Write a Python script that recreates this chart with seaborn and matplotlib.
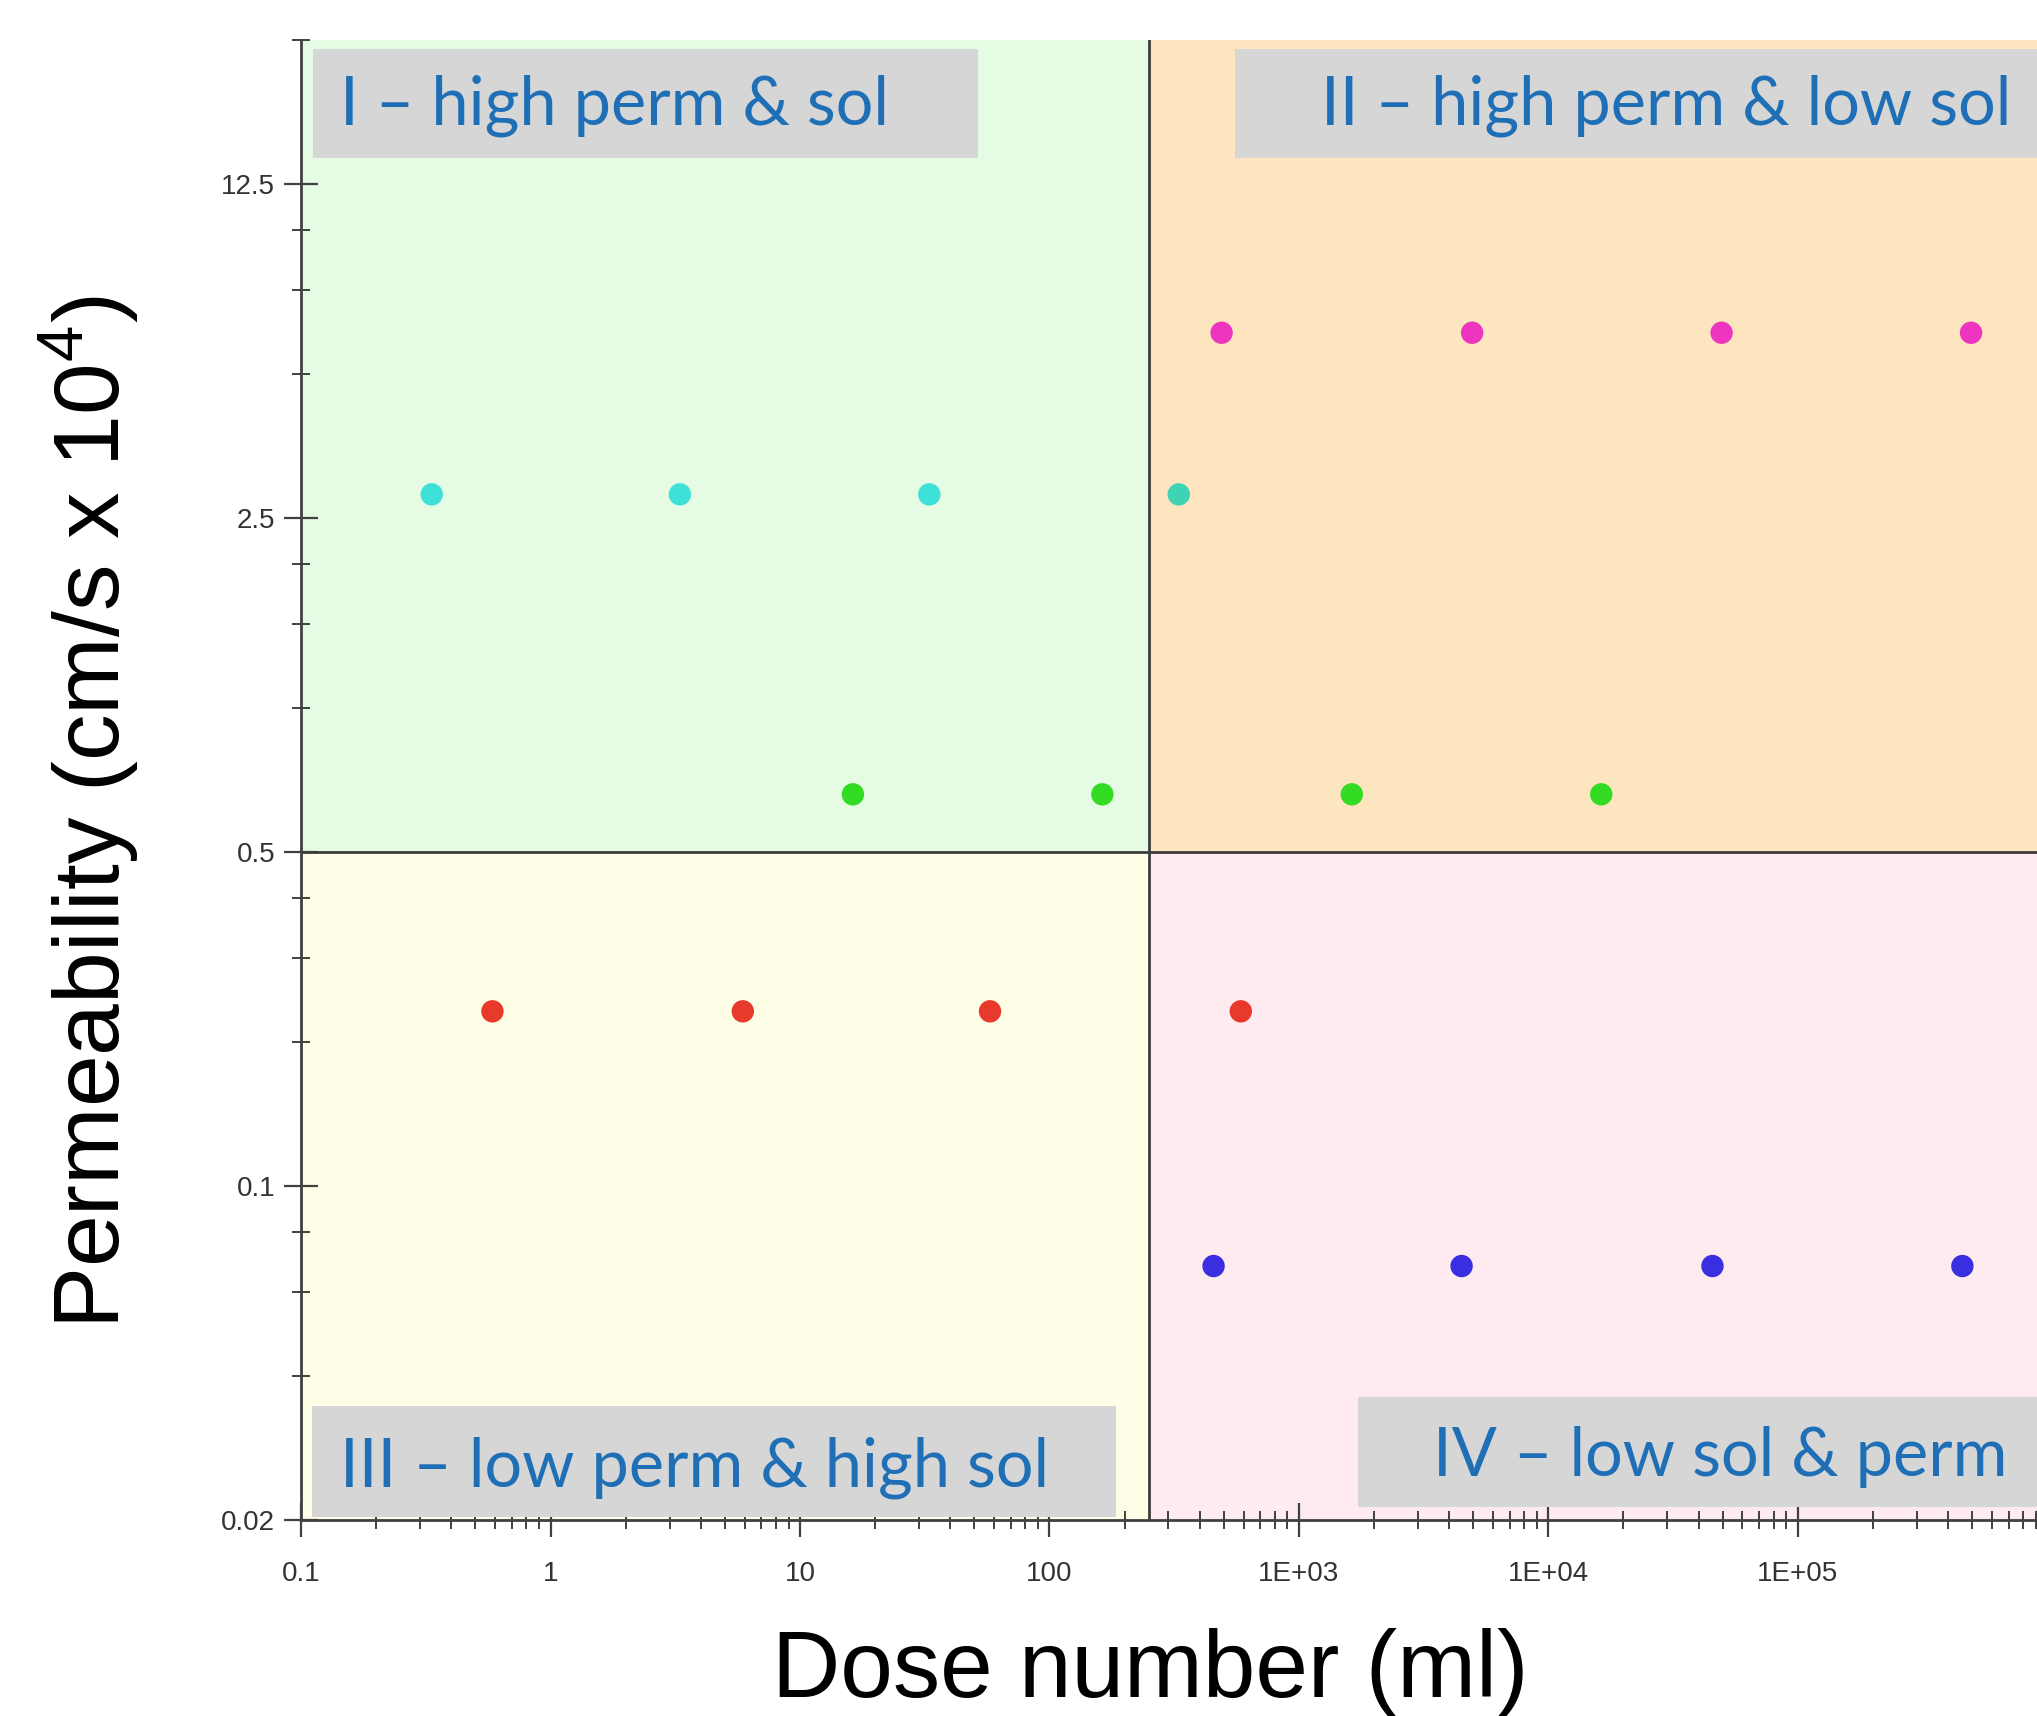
import numpy as np
import pandas as pd
import matplotlib
matplotlib.use("Agg")
import matplotlib.pyplot as plt
import seaborn as sns
from matplotlib.patches import Rectangle
from matplotlib.ticker import FixedLocator, NullFormatter, LogLocator

# ---------------- data ----------------
cyan_x = [0.334, 3.3, 33.0]
cyan_y = [2.8, 2.8, 2.8]
teal_x = [330.0]
teal_y = [2.8]
pink_x = [490.0, 4950.0, 49500.0, 495000.0]
pink_y = [6.1, 6.1, 6.1, 6.1]
green_x = [16.3, 163.0, 1630.0, 16300.0]
green_y = [0.66, 0.66, 0.66, 0.66]
red_x = [0.585, 5.9, 57.8, 585.0]
red_y = [0.232, 0.232, 0.232, 0.232]
blue_x = [455.0, 4490.0, 45500.0, 457000.0]
blue_y = [0.068, 0.068, 0.068, 0.068]

x_split = 250.0
y_split = 0.5

x_ticks = [0.1, 1, 10, 100, 1e3, 1e4, 1e5]
x_tick_labels = ["0.1", "1", "10", "100", "1E+03", "1E+04", "1E+05"]
y_ticks = [0.02, 0.1, 0.5, 2.5, 12.5]
y_tick_labels = ["0.02", "0.1", "0.5", "2.5", "12.5"]
y_minor = [0.04, 0.06, 0.08, 0.2, 0.3, 0.4, 1.0, 1.5, 2.0, 5.0, 7.5, 10.0, 25.0]

quadrant_labels = ["I \u2013 high perm & sol", "II \u2013 high perm & low sol",
                   "III \u2013 low perm & high sol", "IV \u2013 low sol & perm"]

groups = [("cyan", cyan_x, cyan_y), ("teal", teal_x, teal_y), ("pink", pink_x, pink_y),
          ("green", green_x, green_y), ("red", red_x, red_y), ("blue", blue_x, blue_y)]
palette = {"cyan": "#3fe0d8", "teal": "#3dd3b3", "pink": "#ee35c0",
           "green": "#33dc22", "red": "#e83a2c", "blue": "#3a2fe0"}

rows = []
for name, xs, ys in groups:
    for xv, yv in zip(xs, ys):
        rows.append({"dose": xv, "perm": yv, "group": name})
df = pd.DataFrame(rows)

# ---------------- figure ----------------
sns.set_style("white")
plt.rcParams['font.family'] = ['Liberation Sans', 'DejaVu Sans']
plt.rcParams['mathtext.fontset'] = 'custom'
plt.rcParams['mathtext.rm'] = 'Liberation Sans'

fig = plt.figure(figsize=(20.37, 17.16), dpi=100)
ax = fig.add_axes([0.1478, 0.1142, 0.8522, 0.8625])
ax.set_xscale("log")
ax.set_yscale("log")
xmin, xmax = 0.1, 9.1e5
ymin, ymax = 0.02, 25.0
ax.set_xlim(xmin, xmax)
ax.set_ylim(ymin, ymax)

# quadrant backgrounds
quad_cols = {"tl": "#e5fbe4", "tr": "#fde5bf", "bl": "#fefee6", "br": "#fdebef"}
ax.add_patch(Rectangle((xmin, y_split), x_split - xmin, ymax - y_split, facecolor=quad_cols["tl"], edgecolor="none", zorder=0))
ax.add_patch(Rectangle((x_split, y_split), xmax - x_split, ymax - y_split, facecolor=quad_cols["tr"], edgecolor="none", zorder=0))
ax.add_patch(Rectangle((xmin, ymin), x_split - xmin, y_split - ymin, facecolor=quad_cols["bl"], edgecolor="none", zorder=0))
ax.add_patch(Rectangle((x_split, ymin), xmax - x_split, y_split - ymin, facecolor=quad_cols["br"], edgecolor="none", zorder=0))

ax.axvline(x_split, color="#3c3c3c", lw=2, zorder=2)
ax.axhline(y_split, color="#3c3c3c", lw=2, zorder=2)

sns.scatterplot(data=df, x="dose", y="perm", hue="group", palette=palette, s=260,
                edgecolor="none", legend=False, ax=ax, zorder=5)

# label boxes (axes fraction)
boxes = [(0.0069, 0.920, 0.390 - 0.0069, 0.994 - 0.920),
         (0.538, 0.920, 1.0 - 0.538, 0.994 - 0.920),
         (0.0063, 0.002, 0.4695 - 0.0063, 0.077 - 0.002),
         (0.609, 0.0088, 1.0 - 0.609, 0.0831 - 0.0088)]
for (bx, by, bw, bh) in boxes:
    ax.add_patch(Rectangle((bx, by), bw, bh, transform=ax.transAxes, facecolor="#d6d6d6",
                           edgecolor="none", zorder=3))
txt_kw = dict(transform=ax.transAxes, color="#1f6fb6", fontsize=48, family=["Lato", "DejaVu Sans"], zorder=4)
ax.text(0.0225, 0.9555, quadrant_labels[0], ha="left", va="center", **txt_kw)
ax.text(0.985, 0.9555, quadrant_labels[1], ha="right", va="center", **txt_kw)
ax.text(0.0225, 0.0355, quadrant_labels[2], ha="left", va="center", **txt_kw)
ax.text(0.983, 0.0425, quadrant_labels[3], ha="right", va="center", **txt_kw)

# axes styling
for s in ["top", "right"]:
    ax.spines[s].set_visible(False)
for s in ["left", "bottom"]:
    ax.spines[s].set_color("#404040")
    ax.spines[s].set_linewidth(2)
    ax.spines[s].set_zorder(6)

ax.xaxis.set_major_locator(FixedLocator(x_ticks))
ax.set_xticklabels(x_tick_labels)
ax.xaxis.set_minor_locator(LogLocator(base=10, subs=np.arange(2, 10)))
ax.xaxis.set_minor_formatter(NullFormatter())
ax.yaxis.set_major_locator(FixedLocator(y_ticks))
ax.set_yticklabels(y_tick_labels)
ax.yaxis.set_minor_locator(FixedLocator(y_minor))
ax.yaxis.set_minor_formatter(NullFormatter())

ax.tick_params(axis="x", which="major", direction="inout", length=25, width=1.6, color="#404040",
               labelsize=20, labelcolor="#333333", pad=17, bottom=True)
ax.tick_params(axis="x", which="minor", direction="inout", length=13, width=1.4, color="#404040", bottom=True)
ax.tick_params(axis="y", which="major", direction="inout", length=25, width=1.6, color="#404040",
               labelsize=20, labelcolor="#333333", pad=6, left=True)
ax.tick_params(axis="y", which="minor", direction="inout", length=13, width=1.4, color="#404040", left=True)

ax.set_xlabel("Dose number (ml)", fontsize=68, color="#000000")
ax.set_ylabel(r"Permeability (cm/s x 10$^{\mathrm{4}}$)", fontsize=67, color="#000000")
ax.xaxis.set_label_coords(0.489, -0.073)
ax.yaxis.set_label_coords(-0.092, 0.478)

fig.savefig("out.png", dpi=100, facecolor="white")
